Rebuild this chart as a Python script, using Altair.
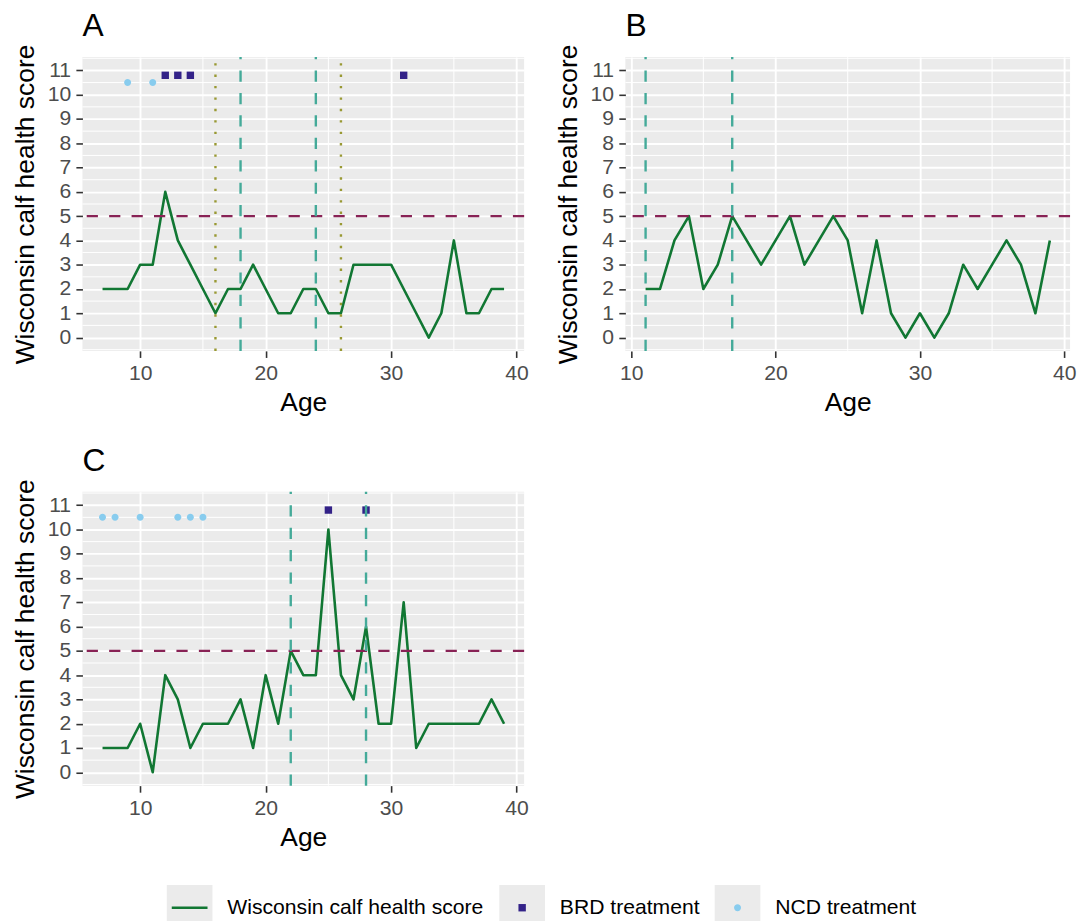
import altair as alt
import pandas as pd

FONT = "Liberation Sans"

# ---------------- data ----------------
series_names = ["Wisconsin calf health score", "BRD treatment", "NCD treatment"]
series_colors = ["#117733", "#332288", "#88CCEE"]
box_keys = ["key_score", "key_brd", "key_ncd"]

age_a = [7, 8, 9, 10, 11, 12, 13, 14, 15, 16, 17, 18, 19, 20, 21, 22, 23,
         24, 25, 26, 27, 28, 29, 30, 31, 32, 33, 34, 35, 36, 37, 38, 39]
score_a = [2, 2, 2, 3, 3, 6, 4, 3, 2, 1, 2, 2, 3, 2, 1, 1, 2,
           2, 1, 1, 3, 3, 3, 3, 2, 1, 0, 1, 4, 1, 1, 2, 2]

age_b = [11, 12, 13, 14, 15, 16, 17, 18, 19, 20, 21, 22, 23, 24, 25,
         26, 27, 28, 29, 30, 31, 32, 33, 34, 35, 36, 37, 38, 39]
score_b = [2, 2, 4, 5, 2, 3, 5, 4, 3, 4, 5, 3, 4, 5, 4,
           1, 4, 1, 0, 1, 0, 1, 3, 2, 3, 4, 3, 1, 4]

age_c = [7, 8, 9, 10, 11, 12, 13, 14, 15, 16, 17, 18, 19, 20, 21, 22, 23,
         24, 25, 26, 27, 28, 29, 30, 31, 32, 33, 34, 35, 36, 37, 38, 39]
score_c = [1, 1, 1, 2, 0, 4, 3, 1, 2, 2, 2, 3, 1, 4, 2, 5, 4,
           4, 10, 4, 3, 6, 2, 2, 7, 1, 2, 2, 2, 2, 2, 3, 2]

dashed_a = [18, 24]
dotted_a = [16, 26]
brd_a = [12, 13, 14, 31]
ncd_a = [9, 11]

dashed_b = [11, 17]
dotted_b = []
brd_b = []
ncd_b = []

dashed_c = [22, 28]
dotted_c = []
brd_c = [25, 28]
ncd_c = [7, 8, 10, 13, 14, 15]

threshold = [5]
brd_level = 10.8
ncd_level = 10.5

x_breaks = [10, 20, 30, 40]
y_breaks = [0, 1, 2, 3, 4, 5, 6, 7, 8, 9, 10, 11]
minor_x = [15, 25, 35]
minor_y = [-0.5, 0.5, 1.5, 2.5, 3.5, 4.5, 5.5, 6.5, 7.5, 8.5, 9.5, 10.5, 11.5]

# ---------------- styling ----------------
PANEL_H = 296
Y_DOMAIN = [-0.55, 11.55]
LEG_SIZE = 2116  # 46 x 46 px legend key
corner = "M-1,-1M1,1"
shape_paths = [
    corner + "M-0.783,-0.0565H0.783V0.0565H-0.783Z",
    corner + "M-0.162,-0.162H0.162V0.162H-0.162Z",
    corner + "M-0.152,0A0.152,0.152,0,1,0,0.152,0A0.152,0.152,0,1,0,-0.152,0Z",
]

label_expr = ("datum.label == '%s' ? '%s' : datum.label == '%s' ? '%s' : '%s'"
              % (box_keys[0], series_names[0], box_keys[1], series_names[1], series_names[2]))

common_leg = dict(
    orient="none", legendX=85, legendY=834, direction="horizontal",
    symbolSize=LEG_SIZE, symbolStrokeWidth=0, symbolOpacity=1,
    labelFont=FONT, labelFontSize=21.3, labelColor="black", labelOffset=15,
    columnPadding=15, padding=0, labelLimit=500,
)
series_legend = alt.Legend(zindex=1, **common_leg)
box_legend = alt.Legend(zindex=0, symbolType="square", symbolFillColor="#EBEBEB",
                        labelOpacity=0, labelExpr=label_expr, **common_leg)

X_TITLE = "Age"
Y_TITLE = "Wisconsin calf health score"


def panel(tag, ages, scores, dashed, dotted, brd, ncd, x_domain, width):
    xs = alt.Scale(domain=x_domain, nice=False, zero=False)
    ys = alt.Scale(domain=Y_DOMAIN, nice=False, zero=False)
    x_axis = alt.Axis(values=x_breaks, title=X_TITLE, labelFlush=False)
    y_axis = alt.Axis(values=y_breaks, title=Y_TITLE, labelFlush=False)

    def X(f):
        return alt.X(f, scale=xs, axis=x_axis, title=X_TITLE)

    def Y(f):
        return alt.Y(f, scale=ys, axis=y_axis, title=Y_TITLE)

    line = alt.Chart(pd.DataFrame({"age": ages, "score": scores})).mark_line(
        color=series_colors[0], strokeWidth=2.6, strokeJoin="round").encode(
        x=X("age:Q"), y=Y("score:Q"))

    minor_v = alt.Chart(pd.DataFrame({"mx": minor_x})).mark_rule(
        color="white", strokeWidth=1.0).encode(x=X("mx:Q"))
    minor_h = alt.Chart(pd.DataFrame({"my": minor_y})).mark_rule(
        color="white", strokeWidth=1.0).encode(y=Y("my:Q"))

    layers = [minor_v, minor_h, line]

    if brd or ncd:
        pts = pd.DataFrame({
            "age": brd + ncd,
            "level": [brd_level] * len(brd) + [ncd_level] * len(ncd),
            "series": [series_names[1]] * len(brd) + [series_names[2]] * len(ncd),
            "key": [box_keys[1]] * len(brd) + [box_keys[2]] * len(ncd),
        })
        points = alt.Chart(pts).mark_point(filled=True, size=LEG_SIZE, opacity=1).encode(
            x=X("age:Q"),
            y=Y("level:Q"),
            color=alt.Color("series:N", scale=alt.Scale(domain=series_names, range=series_colors),
                            legend=series_legend, title=None),
            shape=alt.Shape("series:N", scale=alt.Scale(domain=series_names, range=shape_paths),
                            legend=series_legend, title=None),
            strokeDash=alt.StrokeDash("key:N", scale=alt.Scale(domain=box_keys,
                                      range=[[1, 0], [1, 0], [1, 0]]),
                                      legend=box_legend, title=None),
        )
        layers.append(points)

    hline = alt.Chart(pd.DataFrame({"t": threshold})).mark_rule(
        color="#882255", strokeWidth=2.4, strokeDash=[11.3, 11.3]).encode(y=Y("t:Q"))
    layers.append(hline)

    if dashed:
        vd = alt.Chart(pd.DataFrame({"v": dashed})).mark_rule(
            color="#44AA99", strokeWidth=2.4, strokeDash=[11.3, 11.3]).encode(
            x=X("v:Q"), y=alt.value(PANEL_H), y2=alt.value(0))
        layers.append(vd)
    if dotted:
        vo = alt.Chart(pd.DataFrame({"v": dotted})).mark_rule(
            color="#999933", strokeWidth=2.4, strokeDash=[2.4, 9.1]).encode(
            x=X("v:Q"), y=alt.value(PANEL_H), y2=alt.value(0))
        layers.append(vo)

    return alt.layer(*layers).properties(width=width, height=PANEL_H, title=tag)


pa = panel("A", age_a, score_a, dashed_a, dotted_a, brd_a, ncd_a, [5.4, 40.6], 445)
pb = panel("B", age_b, score_b, dashed_b, dotted_b, brd_b, ncd_b, [9.6, 40.4], 448)
pc = panel("C", age_c, score_c, dashed_c, dotted_c, brd_c, ncd_c, [5.4, 40.6], 445)

chart = alt.vconcat(
    alt.hconcat(pa, pb, spacing=26),
    pc,
    spacing=28,
).properties(
    padding={"left": 4, "top": -2, "right": 0, "bottom": 0},
    background="white",
).configure_view(
    fill="#EBEBEB", strokeWidth=0,
).configure_axis(
    domain=False, grid=True, gridColor="white", gridWidth=1.9,
    tickColor="#333333", tickWidth=1.6, tickSize=6.6,
    labelFont=FONT, labelFontSize=21.3, labelColor="#4D4D4D", labelPadding=5.3,
    titleFont=FONT, titleFontSize=26.6, titleColor="black", titleFontWeight="normal",
).configure_axisX(
    titlePadding=5.8,
).configure_axisY(
    titlePadding=7.8,
).configure_title(
    font=FONT, fontSize=32, fontWeight="normal", color="black",
    anchor="start", frame="group", offset=1,
)

chart.save("out.html", embed_options={"renderer": "svg", "actions": False})
